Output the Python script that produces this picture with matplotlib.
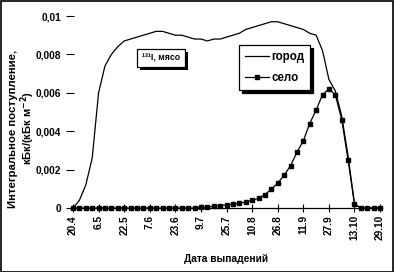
import matplotlib
matplotlib.use("Agg")
import matplotlib.pyplot as plt
from matplotlib.patches import Rectangle
import matplotlib.patheffects as pe
import numpy as np

plt.rcParams['font.family'] = ['Liberation Sans', 'DejaVu Sans']
plt.rcParams['font.weight'] = 'bold'
plt.rcParams['axes.labelweight'] = 'bold'
plt.rcParams['mathtext.default'] = 'bf'

# dates every 4 days, labels every 16 days
tick_labels = ["20.4", "6.5", "22.5", "7.6", "23.6", "9.7", "25.7",
               "10.8", "26.8", "11.9", "27.9", "13.10", "29.10"]

gorod = [0.0, 0.0004, 0.0012, 0.0026, 0.0060, 0.0074, 0.0080, 0.0084,
         0.0087, 0.0088, 0.0089, 0.0090, 0.0091, 0.0092, 0.0092, 0.0091,
         0.0090, 0.0090, 0.0089, 0.0088, 0.0088, 0.0087, 0.0088, 0.0088,
         0.0089, 0.0090, 0.0091, 0.0093, 0.0094, 0.0095, 0.0096, 0.0097,
         0.0097, 0.0096, 0.0095, 0.0094, 0.0093, 0.0091, 0.0090, 0.0082,
         0.0067, 0.0061, 0.0048, 0.0027, 0.0002, 0.0, 0.0, 0.0, 0.0]

selo = [0.0, 0.0, 0.0, 0.0, 0.0, 0.0, 0.0, 0.0,
        0.0, 0.0, 0.0, 0.0, 0.0, 0.0, 0.0, 0.0,
        0.0, 0.0, 0.0, 0.0, 0.00003, 0.00005, 0.00008, 0.00012,
        0.00016, 0.0002, 0.00025, 0.0003, 0.0004, 0.0005, 0.0007, 0.00097,
        0.0013, 0.0017, 0.0022, 0.0029, 0.0035, 0.0044, 0.0051, 0.0059,
        0.0062, 0.0059, 0.0046, 0.0025, 0.0002, 0.0, 0.0, 0.0, 0.0]

yticks = [0, 0.002, 0.004, 0.006, 0.008, 0.01]
ytick_labels = ["0", "0,002", "0,004", "0,006", "0,008", "0,01"]

W, H = 394, 272
fig = plt.figure(figsize=(W / 100, H / 100), dpi=100)
left, right = 69.8, 382.0
top, bottom = 16.0, 208.0
ax = fig.add_axes([left / W, 1 - bottom / H, (right - left) / W, (bottom - top) / H])

x = np.arange(len(gorod))
ax.plot(x, gorod, color='black', lw=0.9, label='город', clip_on=False)
ax.plot(x, selo, color='black', lw=0.9, marker='s', markersize=3,
        label='село', clip_on=False)

ax.set_xlim(-0.5, 48.3)
ax.set_ylim(0, 0.01)
for s in ['top', 'right', 'left']:
    ax.spines[s].set_visible(False)
ax.spines['bottom'].set_linewidth(0.9)

ax.set_xticks(np.arange(0, len(gorod), 4))
ax.set_xticklabels(tick_labels, rotation=90, fontsize=7.3, fontweight='bold')
ax.set_yticks(yticks)
ax.set_yticklabels(ytick_labels, fontsize=7.3, fontweight='bold')
ax.tick_params(axis='x', direction='inout', length=6, width=0.8, pad=2)
ax.tick_params(axis='y', direction='inout', length=6, width=0.8, pad=3)

ax.set_xlabel('Дата выпадений', fontsize=7.3, fontweight='bold', labelpad=10)

fig.text(13 / W, 1 - 129 / H, 'Интегральное поступление,', rotation=90,
         ha='center', va='center', fontsize=8.2, fontweight='bold')
fig.text(28 / W, 1 - 128 / H, 'кБк/(кБк м$^{-2}$)', rotation=90,
         ha='center', va='center', fontsize=8.0, fontweight='bold')

leg = ax.legend(loc='upper left', bbox_to_anchor=(0.542, 0.849),
                borderaxespad=0, fontsize=8.3, fancybox=False,
                framealpha=1, edgecolor='black', handlelength=2.1,
                handletextpad=0.2, borderpad=0.5, labelspacing=0.8,
                shadow={'color': 'black', 'alpha': 1})
leg.get_frame().set_linewidth(0.9)

# text box with black shadow
t = ax.text(0.292, 0.781, '¹³¹I, мясо', transform=ax.transAxes,
            ha='center', va='center', fontsize=6.3, color='black',
            bbox=dict(boxstyle='square,pad=0.55', fc='white', ec='black', lw=0.9))
t.get_bbox_patch().set_path_effects([
    pe.withSimplePatchShadow(offset=(2.2, -2.2), shadow_rgbFace='black', alpha=1.0)])

fig.add_artist(Rectangle((0.5 / W, 0.5 / H), 1 - 1.5 / W, 1 - 1.5 / H,
                         transform=fig.transFigure, fill=False,
                         ec='black', lw=1.2))

fig.savefig('out.png', dpi=100)
